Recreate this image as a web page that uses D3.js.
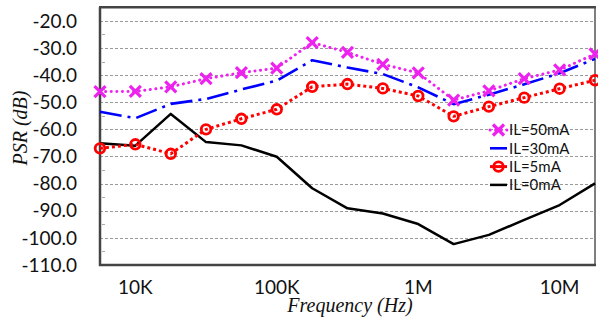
<!DOCTYPE html>
<html>
<head>
<meta charset="utf-8">
<script src="https://cdn.jsdelivr.net/npm/d3@7"></script>
<style>
  body { margin: 0; background: #fff; }
  svg { display: block; }
  .tick-label { font-family: Lato, "Open Sans", sans-serif; font-size: 19px; fill: #111; }
  .axis-title { font-family: "Liberation Serif", "DejaVu Serif", serif; font-style: italic; font-size: 20px; fill: #111; }
  .legend-text { font-family: Lato, "Open Sans", sans-serif; font-size: 15px; fill: #111; }
</style>
</head>
<body>
<div id="chart"></div>
<script>
// PSR vs frequency, four load currents
var freqs = [5620, 10000, 17800, 31600, 56200, 100000, 178000, 316000, 562000,
             1000000, 1780000, 3160000, 5620000, 10000000, 17800000];

var il50 = [-46.1, -46.0, -44.3, -41.3, -39.1, -37.4, -28.0, -31.6, -36.0,
            -39.2, -49.2, -45.8, -41.3, -38.1, -32.2];
var il30 = [-53.5, -55.9, -50.6, -48.8, -45.3, -42.0, -34.5, -37.2, -39.6,
            -44.5, -50.7, -47.2, -43.4, -39.3, -34.0];
var il5  = [-67.0, -65.5, -69.0, -60.0, -56.1, -52.6, -44.3, -43.3, -44.9,
            -47.7, -55.2, -51.6, -48.3, -45.0, -41.9];
var il0  = [-65.1, -66.0, -54.3, -64.7, -65.9, -70.1, -81.7, -89.1, -91.0,
            -94.9, -102.3, -98.9, -93.4, -87.9, -79.9];

var yTicks = [-20, -30, -40, -50, -60, -70, -80, -90, -100, -110];
var xTicks = [1e4, 1e5, 1e6, 1e7];
var xTickNames = ["10K", "100K", "1M", "10M"];

var series = [
  {name: "IL=50mA", values: il50, color: "#ee22ee", dash: "0.1,5.5", width: 3, cap: "round", marker: "x"},
  {name: "IL=30mA", values: il30, color: "#0000ff", dash: "22,6,3,6", width: 2.6, cap: "butt", marker: null},
  {name: "IL=5mA",  values: il5,  color: "#ff0000", dash: "3,3", width: 3, cap: "butt", marker: "o"},
  {name: "IL=0mA",  values: il0,  color: "#000000", dash: null, width: 2.5, cap: "butt", marker: null}
];

function psr_chart(div_id) {
  var width = 598, height = 320;
  var left = 100, right = 595, plotTop = 7.3, bottom = 265;

  var svg = d3.select(div_id).append("svg")
      .attr("width", width)
      .attr("height", height);

  var x = d3.scaleLog().domain([Math.pow(10, 3.75), Math.pow(10, 7.25)]).range([left, right]);
  var y = d3.scaleLinear().domain([-110, -15]).range([bottom, plotTop]);

  // gridlines
  svg.append("g").selectAll("line")
    .data(yTicks.filter(function(d) { return d > -110; }))
    .enter().append("line")
      .attr("x1", left).attr("x2", right)
      .attr("y1", function(d) { return Math.round(y(d)) + 0.5; })
      .attr("y2", function(d) { return Math.round(y(d)) + 0.5; })
      .attr("stroke", "#9a9a9a")
      .attr("stroke-width", 1)
      .attr("stroke-dasharray", "3,2");

  // minor ticks on the y axis (halfway between labels)
  svg.append("g").selectAll("line")
    .data(yTicks.slice(0, -1).map(function(d) { return d - 5; }))
    .enter().append("line")
      .attr("x1", left + 2).attr("x2", left + 5)
      .attr("y1", function(d) { return Math.round(y(d)) + 0.5; })
      .attr("y2", function(d) { return Math.round(y(d)) + 0.5; })
      .attr("stroke", "#aaa")
      .attr("stroke-width", 1);

  // frame
  svg.append("line").attr("x1", left - 1).attr("x2", right + 1).attr("y1", plotTop).attr("y2", plotTop)
    .attr("stroke", "#444").attr("stroke-width", 2.5);
  svg.append("line").attr("x1", right).attr("x2", right).attr("y1", plotTop).attr("y2", bottom)
    .attr("stroke", "#555").attr("stroke-width", 1.5);
  svg.append("line").attr("x1", left).attr("x2", left).attr("y1", plotTop).attr("y2", bottom + 1)
    .attr("stroke", "#444").attr("stroke-width", 2.5);
  svg.append("line").attr("x1", left - 1).attr("x2", right + 1).attr("y1", bottom).attr("y2", bottom)
    .attr("stroke", "#444").attr("stroke-width", 2.5);

  // y tick labels
  svg.append("g").selectAll("text")
    .data(yTicks)
    .enter().append("text")
      .attr("class", "tick-label")
      .attr("x", 77)
      .attr("y", function(d) { return y(d); })
      .attr("dy", "0.35em")
      .attr("text-anchor", "end")
      .text(function(d) { return d3.format(".1f")(d).replace("\u2212", "-"); });

  // x tick labels
  svg.append("g").selectAll("text")
    .data(xTicks)
    .enter().append("text")
      .attr("class", "tick-label")
      .attr("x", function(d) { return x(d); })
      .attr("y", 294)
      .attr("text-anchor", "middle")
      .text(function(d, i) { return xTickNames[i]; });

  // axis titles
  svg.append("text")
    .attr("class", "axis-title")
    .attr("transform", "translate(27,128) rotate(-90)")
    .attr("text-anchor", "middle")
    .text("PSR (dB)");

  svg.append("text")
    .attr("class", "axis-title")
    .attr("x", 350)
    .attr("y", 312)
    .attr("text-anchor", "middle")
    .text("Frequency (Hz)");

  var line = d3.line()
    .x(function(d, i) { return x(freqs[i]); })
    .y(function(d) { return y(d); });

  // draw lines bottom-up so the top series sits on top
  series.slice().reverse().forEach(function(s) {
    svg.append("path")
      .datum(s.values)
      .attr("d", line)
      .attr("fill", "none")
      .attr("stroke", s.color)
      .attr("stroke-width", s.width)
      .attr("stroke-linecap", s.cap)
      .attr("stroke-linejoin", "round")
      .attr("stroke-dasharray", s.dash);
  });

  function drawMarker(g, s, cx, cy) {
    if (s.marker === "x") {
      var r = 5.5;
      g.append("path")
        .attr("d", "M" + (cx - r) + "," + (cy - r) + "L" + (cx + r) + "," + (cy + r) +
                   "M" + (cx - r) + "," + (cy + r) + "L" + (cx + r) + "," + (cy - r))
        .attr("stroke", s.color)
        .attr("stroke-width", 3.2);
    } else if (s.marker === "o") {
      g.append("circle")
        .attr("cx", cx).attr("cy", cy).attr("r", 4.8)
        .attr("fill", "none")
        .attr("stroke", s.color)
        .attr("stroke-width", 2.8);
    }
  }

  series.forEach(function(s) {
    if (!s.marker) return;
    var g = svg.append("g");
    s.values.forEach(function(v, i) {
      drawMarker(g, s, x(freqs[i]), y(v));
    });
  });

  // legend
  var legend = svg.append("g");
  series.forEach(function(s, i) {
    var ly = 130 + i * 18.3;
    legend.append("line")
      .attr("x1", 490).attr("x2", 507)
      .attr("y1", ly).attr("y2", ly)
      .attr("stroke", s.color)
      .attr("stroke-width", s.width)
      .attr("stroke-linecap", s.cap)
      .attr("stroke-dasharray", s.marker === "x" ? s.dash : null);
    drawMarker(legend, s, 498.5, ly);
    legend.append("text")
      .attr("class", "legend-text")
      .attr("x", 509)
      .attr("y", ly)
      .attr("dy", "0.36em")
      .text(s.name);
  });
}

psr_chart("#chart");
</script>
</body>
</html>
